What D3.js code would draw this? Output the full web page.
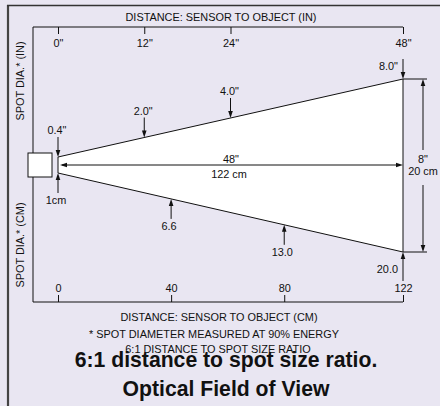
<!DOCTYPE html>
<html>
<head>
<meta charset="utf-8">
<script src="https://cdn.jsdelivr.net/npm/d3@7"></script>
<style>
body{margin:0;background:#e9e6f2;}
svg{display:block;font-family:"Liberation Sans",Arial,Helvetica,sans-serif;}
</style>
</head>
<body>
<svg id="svg_canvas" width="440" height="406"></svg>
<script>
// distance ticks on the two axes
var inchTicks = [0, 12, 24, 48];
var cmTicks = [0, 40, 80, 122];
// spot diameter read at those distances
var spotIn = [0.4, 2.0, 4.0, 8.0];
var spotInLabels = ['0.4"', '2.0"', '4.0"', '8.0"'];
var spotCm = [1, 6.6, 13.0, 20.0];
var spotCmLabels = ["1cm", "6.6", "13.0", "20.0"];
var spanLabels = ['48"', "122 cm"];
var sizeLabels = ['8"', "20 cm"];
var notes = ["DISTANCE: SENSOR TO OBJECT (CM)", "* SPOT DIAMETER MEASURED AT 90% ENERGY", "6:1 DISTANCE TO SPOT SIZE RATIO"];
var titleLines = ["6:1 distance to spot size ratio.", "Optical Field of View"];

var ink = "#111";
var fs = 10.9;
var svg = d3.select("#svg_canvas");
var cy = 165;

var xIn = d3.scaleLinear().domain([0, d3.max(inchTicks)]).range([58, 403]);
var xCm = d3.scaleLinear().domain([0, d3.max(cmTicks)]).range([58, 403]);
var halfIn = d3.scaleLinear().domain([spotIn[0], spotIn[3]]).range([8, 86]);
var halfCm = d3.scaleLinear().domain([spotCm[0], spotCm[3]]).range([8, 87]);
// cone edges, straight between the end spots
var topEdge = d3.scaleLinear().domain([0, d3.max(inchTicks)]).range([cy - halfIn(spotIn[0]), cy - halfIn(spotIn[3])]);
var botEdge = d3.scaleLinear().domain([0, d3.max(cmTicks)]).range([cy + halfCm(spotCm[0]), cy + halfCm(spotCm[3])]);

// outer border
svg.append("line").attr("x1", 8).attr("y1", 5).attr("x2", 8).attr("y2", 406)
	.attr("stroke", "#444").attr("stroke-width", 2.2);
svg.append("line").attr("x1", 7).attr("y1", 5.5).attr("x2", 440).attr("y2", 5.5)
	.attr("stroke", "#333").attr("stroke-width", 1.3);

// inner frame
var frame = d3.path();
frame.moveTo(xIn(48), 27); frame.lineTo(33, 27); frame.lineTo(33, 302); frame.lineTo(xCm(122), 302);
svg.append("path").attr("d", frame.toString()).attr("fill", "none").attr("stroke", ink).attr("stroke-width", 1);

// axes
var topAxis = d3.axisBottom(xIn).tickValues(inchTicks).tickSize(7).tickPadding(5)
	.tickFormat(function(d){ return d + '"'; });
var gTop = svg.append("g").attr("transform", "translate(0,27)").call(topAxis);
var botAxis = d3.axisTop(xCm).tickValues(cmTicks).tickSize(7).tickPadding(3);
var gBot = svg.append("g").attr("transform", "translate(0,302)").call(botAxis);
[gTop, gBot].forEach(function(g){
	g.select(".domain").remove();
	g.selectAll("line").attr("stroke", ink);
	g.selectAll("text").attr("fill", ink).style("font-size", fs + "px");
	g.attr("font-family", null).attr("font-size", null);
});

// cone
var cone = [[xIn(0), topEdge(0)], [xIn(48), topEdge(48)], [xCm(122), botEdge(122)], [xCm(0), botEdge(0)]];
svg.append("polygon").attr("points", cone.map(function(p){ return p.join(","); }).join(" "))
	.attr("fill", "#fff").attr("stroke", ink).attr("stroke-width", 1);

// sensor
svg.append("rect").attr("x", 28).attr("y", 153).attr("width", 24).attr("height", 24)
	.attr("fill", "#fff").attr("stroke", ink).attr("stroke-width", 1);

var head = function(x, y, dx, dy){
	// filled arrow head with tip at x,y pointing along dx,dy
	var L = 7, W = 2.3;
	var px = -dy, py = dx;
	return [[x, y], [x - dx*L + px*W, y - dy*L + py*W], [x - dx*L - px*W, y - dy*L - py*W]]
		.map(function(p){ return p.join(","); }).join(" ");
};
var arrow = function(x, yTail, yTip){
	var s = yTip > yTail ? 1 : -1;
	svg.append("line").attr("x1", x).attr("y1", yTail).attr("x2", x).attr("y2", yTip - s*3)
		.attr("stroke", ink).attr("stroke-width", 1);
	svg.append("polygon").attr("points", head(x, yTip, 0, s)).attr("fill", ink);
};
var label = function(x, y, t, anchor, size){
	return svg.append("text").attr("x", x).attr("y", y).attr("text-anchor", anchor || "middle")
		.attr("fill", ink).style("font-size", (size || fs) + "px").text(t);
};

// spot diameter callouts, inches above
inchTicks.forEach(function(d, i){
	var x = xIn(d), tip = topEdge(d);
	arrow(x, tip - 20, tip);
	if (i == inchTicks.length - 1) label(x - 5, tip - 9, spotInLabels[i], "end");
	else label(x - 1, tip - 23, spotInLabels[i]);
});
// cm below
cmTicks.forEach(function(d, i){
	var x = xCm(d), tip = botEdge(d);
	if (i == cmTicks.length - 1) { arrow(x, tip + 29, tip); label(x - 5, tip + 21, spotCmLabels[i], "end"); }
	else { arrow(x, tip + 20, tip); label(x - 2, tip + 31, spotCmLabels[i]); }
});

// distance dimension
svg.append("line").attr("x1", xIn(0) + 4).attr("y1", cy).attr("x2", xIn(48) - 4).attr("y2", cy)
	.attr("stroke", ink).attr("stroke-width", 1);
svg.append("polygon").attr("points", head(xIn(0) + 2, cy, -1, 0)).attr("fill", ink);
svg.append("polygon").attr("points", head(xIn(48), cy, 1, 0)).attr("fill", ink);
label(231, cy - 2, spanLabels[0]);
label(229, cy + 13, spanLabels[1]);

// spot size dimension
var dx = 423, yA = topEdge(48), yB = botEdge(122);
svg.append("line").attr("x1", xIn(48)).attr("y1", yA).attr("x2", 427).attr("y2", yA).attr("stroke", ink);
svg.append("line").attr("x1", xCm(122)).attr("y1", yB).attr("x2", 427).attr("y2", yB).attr("stroke", ink);
arrow(dx, 150, yA);
arrow(dx, 185, yB);
label(dx, 163, sizeLabels[0]);
label(dx, 175, sizeLabels[1]);

// axis titles
label(221, 21, "DISTANCE: SENSOR TO OBJECT (IN)");
label(0, 0, "SPOT DIA.* (IN)").attr("transform", "translate(24,81) rotate(-90)");
label(0, 0, "SPOT DIA.* (CM)").attr("transform", "translate(24,245) rotate(-90)");
label(219, 321, notes[0]);
label(214, 338, notes[1]);
label(218, 353, notes[2]);

// caption
label(226, 367, titleLines[0], "middle", 21.2).attr("font-weight", "bold");
label(226, 396, titleLines[1], "middle", 21.2).attr("font-weight", "bold");
</script>
</body>
</html>
